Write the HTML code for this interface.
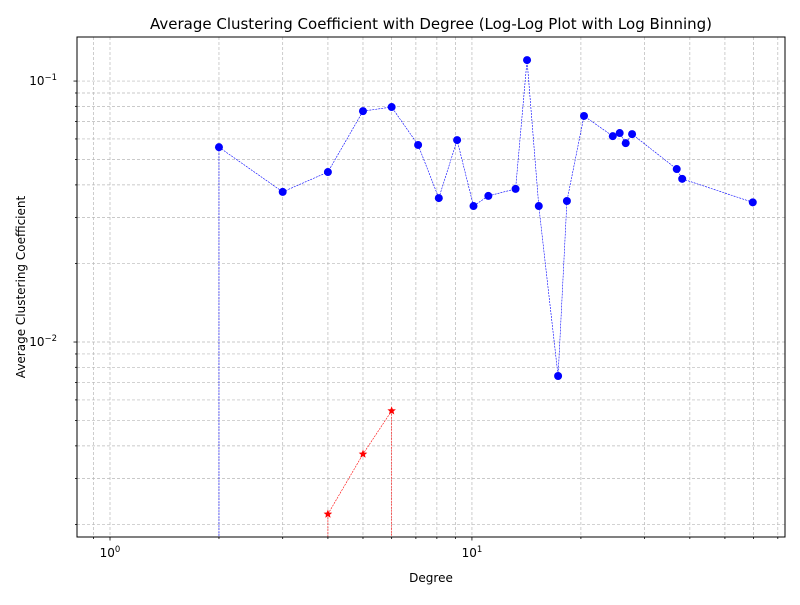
<!DOCTYPE html>
<html><head><meta charset="utf-8"><style>
body{margin:0;background:#fff;font-family:"Liberation Sans","DejaVu Sans",sans-serif}
svg text{font-family:"DejaVu Sans","Liberation Sans",sans-serif}
</style></head><body>
<svg id="c" width="800" height="600" xmlns="http://www.w3.org/2000/svg"></svg>
<script>
const blueX=[2,3,4,5,6,7.1,8.1,9.1,10.1,11.1,13.2,14.2,15.3,17.3,18.3,20.4,24.5,25.6,26.6,27.7,36.8,38.1,59.7];
const blueY=[0.0558,0.0376,0.0448,0.0767,0.0795,0.0569,0.0356,0.0594,0.0332,0.0363,0.0386,0.1203,0.0332,0.00741,0.0347,0.0735,0.0615,0.0632,0.0578,0.0626,0.046,0.0422,0.0343];
const redX=[4,5,6];
const redY=[0.00219,0.00372,0.00545];
const blueDrops=[2];
const redDrops=[4,6];
const xTickLabels=["10","10"];
const xMajor=[1,10];
const yMajor=[0.01,0.1];

const L=77,R=785,T=37,B=537;
const xmin=-0.0912,xmax=1.865;
const ymin=Math.log10(0.00179),ymax=Math.log10(0.1475);
const X=v=>L+(Math.log10(v)-xmin)/(xmax-xmin)*(R-L);
const Y=v=>B-(Math.log10(v)-ymin)/(ymax-ymin)*(B-T);
const svg=document.getElementById('c');
const NS="http://www.w3.org/2000/svg";
function mk(t,a,p){const e=document.createElementNS(NS,t);for(const k in a)e.setAttribute(k,a[k]);(p||svg).appendChild(e);return e;}

const grid=mk('g',{});


const xlo=Math.pow(10,xmin),xhi=Math.pow(10,xmax);
for(let d=-1;d<=1;d++)for(let m=1;m<10;m++){const v=m*Math.pow(10,d);if(v<xlo||v>xhi)continue;const x=X(v);
 mk('line',{x1:x,x2:x,y1:T,y2:B,stroke:'#b8b8b8','stroke-width':0.7,'stroke-dasharray':'3,2'},grid);
 mk('line',{x1:x,x2:x,y1:B,y2:B+(m==1?3.5:2),stroke:'#000','stroke-width':0.8},grid);}
for(let d=-3;d<=-1;d++)for(let m=1;m<10;m++){const v=m*Math.pow(10,d);if(v<0.00179||v>0.1475)continue;const y=Y(v);
 mk('line',{x1:L,x2:R,y1:y,y2:y,stroke:'#b8b8b8','stroke-width':0.7,'stroke-dasharray':'3,2'},grid);
 mk('line',{x1:L,x2:L-(m==1?3.5:2),y1:y,y2:y,stroke:'#000','stroke-width':0.8},grid);}

function series(xs,ys,drops,color,name,star){
 const g=mk('g',{});
 
 
 drops.forEach(v=>{const i=xs.indexOf(v);mk('line',{x1:X(v),x2:X(v),y1:Y(ys[i]),y2:B,stroke:color,'stroke-width':0.6,'stroke-dasharray':'2,1'},g);});
 mk('polyline',{points:xs.map((v,i)=>X(v)+','+Y(ys[i])).join(' '),fill:'none',stroke:color,'stroke-width':0.6,'stroke-dasharray':'2,1'},g);
 xs.forEach((v,i)=>{const cx=X(v),cy=Y(ys[i]);let p;
  if(star){let pts=[];for(let k=0;k<10;k++){const r=k%2?2:4.5,a=-Math.PI/2+k*Math.PI/5;pts.push((cx+r*Math.cos(a)).toFixed(1)+','+(cy+r*Math.sin(a)).toFixed(1));}
   p=mk('polygon',{points:pts.join(' '),fill:color},g);}
  else p=mk('circle',{cx:cx,cy:cy,r:4,fill:color},g);
  
  });
}
series(blueX,blueY,blueDrops,'#0000ff','blue-series',false);
series(redX,redY,redDrops,'#ff0000','red-series',true);

const fr=mk('rect',{x:L,y:T,width:R-L,height:B-T,fill:'none',stroke:'#000','stroke-width':1});



xMajor.forEach((v,i)=>{const t=mk('text',{x:X(v),y:B+20,'text-anchor':'middle','font-size':12});t.textContent=xTickLabels[i];
 const s=mk('tspan',{dy:-5,'font-size':8.5},t);s.textContent=i==0?'0':'1';
 
 });
yMajor.forEach(v=>{const t=mk('text',{x:L-20,y:Y(v)+4,'text-anchor':'end','font-size':12});t.textContent='10';
 const s=mk('tspan',{dy:-5,'font-size':8.5},t);s.textContent=v==0.1?'−1':'−2';
 
 });

let t=mk('text',{x:431,y:29,'text-anchor':'middle','font-size':15});t.textContent='Average Clustering Coefficient with Degree (Log-Log Plot with Log Binning)';

t=mk('text',{x:431,y:582,'text-anchor':'middle','font-size':12});t.textContent='Degree';

t=mk('text',{x:25,y:287,'text-anchor':'middle','font-size':12,transform:'rotate(-90 25 287)'});t.textContent='Average Clustering Coefficient';

</script>
</body></html>
